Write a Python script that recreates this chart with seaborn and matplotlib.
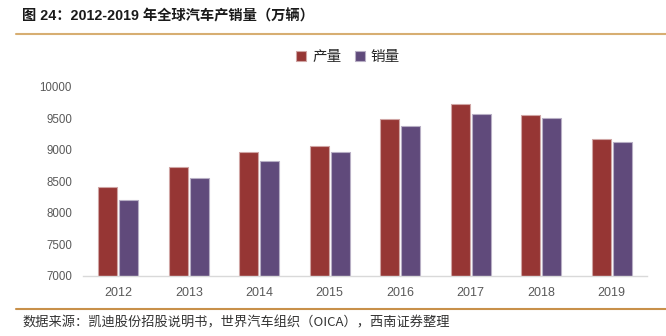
import matplotlib
matplotlib.use("Agg")
import matplotlib.pyplot as plt
import matplotlib.colors as mcolors
import matplotlib.lines as mlines
import seaborn as sns
import pandas as pd
import numpy as np

years = ["2012", "2013", "2014", "2015", "2016", "2017", "2018", "2019"]
production = [8414, 8731, 8975, 9068, 9497, 9730, 9563, 9179]
sales = [8211, 8562, 8824, 8968, 9386, 9566, 9506, 9130]
series_names = ["产量", "销量"]
y_ticks = [7000, 7500, 8000, 8500, 9000, 9500, 10000]
title_text = "图 24：2012-2019 年全球汽车产销量（万辆）"
source_text = "数据来源：凯迪股份招股说明书，世界汽车组织（OICA），西南证券整理"

df = pd.DataFrame({
    "year": years * 2,
    "value": production + sales,
    "series": [series_names[0]] * len(years) + [series_names[1]] * len(years),
})

sns.set_theme(style="white")
plt.rcParams["font.family"] = ["Liberation Sans", "Noto Sans CJK SC", "DejaVu Sans"]
plt.rcParams["axes.unicode_minus"] = False

colors = {"产量": "#963634", "销量": "#604A7B"}

fig = plt.figure(figsize=(6.66, 3.36), dpi=100)
ax = fig.add_axes([83 / 666, 1 - 276 / 336, (647 - 83) / 666, (276 - 87) / 336])

sns.barplot(data=df, x="year", y="value", hue="series", palette=colors,
            width=0.606, gap=0.11, ax=ax, legend=True, saturation=1)

for p in ax.patches:
    fc = np.array(mcolors.to_rgb(p.get_facecolor()))
    ec = fc + (1 - fc) * 0.55
    p.set_edgecolor(ec)
    p.set_linewidth(0.8)

ax.set_ylim(7000, 10000)
ax.set_xlim(-0.5, len(years) - 0.5)
ax.set_yticks(y_ticks)
ax.set_yticklabels([str(t) for t in y_ticks])
ax.set_xlabel("")
ax.set_ylabel("")
for s in ["top", "right", "left"]:
    ax.spines[s].set_visible(False)
ax.spines["bottom"].set_color("#D9D9D9")
ax.spines["bottom"].set_linewidth(1.0)
ax.tick_params(axis="both", length=0, labelcolor="#595959")
ax.tick_params(axis="y", pad=8, labelsize=8.3)
ax.tick_params(axis="x", pad=8, labelsize=9)

handles, labels = ax.get_legend_handles_labels()
ax.legend(handles, labels, loc="center", bbox_to_anchor=(348 / 666, 1 - 57 / 336),
          bbox_transform=fig.transFigure, ncol=2, frameon=False,
          handlelength=0.7, handleheight=0.7, handletextpad=0.4,
          columnspacing=0.9, prop={"family": ["Noto Sans CJK SC"], "size": 10.5})

fig.text(22 / 666, 1 - 16 / 336, title_text, ha="left", va="center",
         fontsize=10.3, fontweight="bold", color="#1a1a1a",
         family=["Liberation Sans", "Noto Sans CJK SC"])
fig.text(22 / 666, 1 - 323 / 336, source_text, ha="left", va="center",
         fontsize=9.5, color="#333333", style="italic",
         family=["Noto Sans CJK SC", "Liberation Sans"])

fig.add_artist(mlines.Line2D([16 / 666, 1], [1 - 34 / 336] * 2,
                             transform=fig.transFigure, color="#D7AE72", lw=1.5))
fig.add_artist(mlines.Line2D([16 / 666, 1], [1 - 309 / 336] * 2,
                             transform=fig.transFigure, color="#C8904A", lw=1.5))

fig.savefig("out.png", dpi=100)
